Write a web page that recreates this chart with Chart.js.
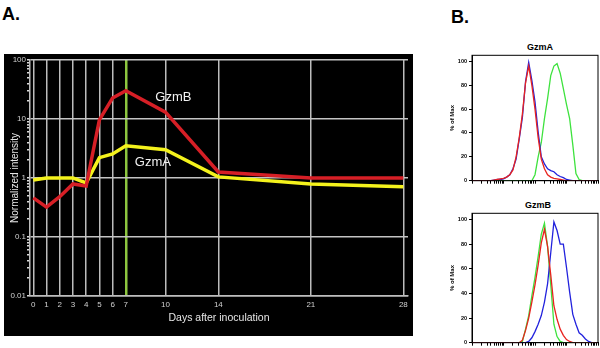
<!DOCTYPE html>
<html>
<head>
<meta charset="utf-8">
<script src="https://cdn.jsdelivr.net/npm/chart.js@4.4.1/dist/chart.umd.min.js"></script>
<style>
  body { margin: 0; width: 600px; height: 348px; background: #fff; position: relative; overflow: hidden; font-family: "Liberation Sans", Arial, sans-serif; }
  .panel { position: absolute; font-weight: bold; font-size: 18px; line-height: 18px; }
  .box { position: absolute; }
  .htitle { position: absolute; width: 80px; text-align: center; font-size: 9px; line-height: 10px; font-weight: bold; }
</style>
</head>
<body>
<div class="panel" style="left:2px;top:5px">A.</div>
<div class="panel" style="left:451px;top:8px">B.</div>
<div class="box" style="left:4px;top:54px;width:409px;height:282px;background:#000"><canvas id="kinetics"></canvas></div>
<div class="htitle" style="left:500px;top:42px">GzmA</div>
<div class="box" style="left:440px;top:50px;width:160px;height:136px"><canvas id="histA"></canvas></div>
<div class="htitle" style="left:498px;top:200px">GzmB</div>
<div class="box" style="left:440px;top:208px;width:160px;height:140px"><canvas id="histB"></canvas></div>
<script>
// Panel A : kinetics
const days = [0, 1, 2, 3, 4, 5, 6, 7, 10, 14, 21, 28];
const gzmB = [0.46, 0.32, 0.48, 0.79, 0.73, 9.6, 22.6, 30, 13, 1.26, 1.0, 1.0];
const gzmA = [0.92, 1.0, 1.0, 1.0, 0.82, 2.2, 2.55, 3.5, 3.0, 1.04, 0.79, 0.71];
const yDecades = [0.01, 0.1, 1, 10, 100];
const yDecadeLabels = ['0.01', '0.1', '1', '10', '100'];
const markedDay = 7;
const curveNames = ['GzmB', 'GzmA'];
const curveNameDays = [10.6, 9.05];
const curveNameValues = [22.7, 1.8];

// Panel B : histograms (x = log10 fluorescence)
const fluo = [0, 0.1, 0.2, 0.3, 0.4, 0.5, 0.6, 0.7, 0.8, 0.9,
  1, 1.1, 1.2, 1.3, 1.4, 1.5, 1.6, 1.7, 1.8, 1.9,
  2, 2.1, 2.2, 2.3, 2.4, 2.5, 2.6, 2.7, 2.8, 2.9,
  3, 3.1, 3.2, 3.3, 3.4, 3.5, 3.6, 3.7, 3.8, 3.9, 4];
const gzmARed = [0, 0, 0, 0, 0, 0, 0, 0.5, 1, 1.5,
  2, 3, 5, 9, 20, 36, 56, 82, 96, 80,
  60, 36, 18, 10, 5, 3, 2, 1.5, 1, 0.5,
  0, 0, 0, 0, 0, 0, 0, 0, 0, 0, 0];
const gzmABlue = [0, 0, 0, 0, 0, 0, 0, 0.5, 1, 1,
  1.5, 3, 5, 10, 18, 35, 53, 83, 99, 84,
  66, 41, 20, 14, 10, 8.5, 7.5, 5, 3.5, 2.5,
  1, 0.5, 0, 0, 0, 0, 0, 0, 0, 0, 0];
const gzmAGreen = [0, 0, 0, 0, 0, 0, 0, 0, 0, 0,
  0, 0, 0, 0, 0, 0, 0, 0, 0, 0,
  5, 20, 32, 52, 69, 88, 96, 98, 90, 77,
  64, 52, 30, 6, 1, 0, 0, 0, 0, 0, 0];
const gzmBRed = [0, 0, 0, 0, 0, 0, 0, 0, 0, 0,
  0, 0, 0, 0, 0, 0, 2, 10, 20, 33,
  47, 63, 81, 92, 78, 55, 30, 19, 11, 6,
  2.5, 1, 0, 0, 0, 0, 0, 0, 0, 0, 0];
const gzmBBlue = [0, 0, 0, 0, 0, 0, 0, 0, 0, 0,
  0, 0, 0, 0, 0, 0, 0, 0, 1, 4,
  9, 15, 22, 33, 48, 73, 98, 91, 80, 80,
  61, 41, 23, 15, 8, 6, 3, 1, 0, 0, 0];
const gzmBGreen = [0, 0, 0, 0, 0, 0, 0, 0, 0, 0,
  0, 0, 0, 0, 0, 0, 1, 11, 22, 38,
  53, 70, 88, 97, 78, 47, 15, 5, 1, 0,
  0, 0, 0, 0, 0, 0, 0, 0, 0, 0, 0];
const histYTicks = [0, 20, 40, 60, 80, 100];

Chart.defaults.font.family = '"Liberation Sans", Arial, sans-serif';
Chart.defaults.animation = false;

const isDecade = (v) => yDecades.some((d) => Math.abs(v / d - 1) < 1e-6);

const curveLabelPlugin = {
  id: 'curveLabels',
  afterDatasetsDraw(chart) {
    const { ctx, scales } = chart;
    ctx.save();
    ctx.fillStyle = '#f2f2f2';
    ctx.font = '13px "Liberation Sans", Arial, sans-serif';
    ctx.textAlign = 'center';
    ctx.textBaseline = 'middle';
    curveNames.forEach((name, i) => {
      ctx.fillText(name, scales.x.getPixelForValue(curveNameDays[i]), scales.y.getPixelForValue(curveNameValues[i]));
    });
    ctx.restore();
  },
};

new Chart(document.getElementById('kinetics'), {
  type: 'line',
  data: {
    datasets: [
      {
        label: 'GzmB',
        data: days.map((d, i) => ({ x: d, y: gzmB[i] })),
        borderColor: '#d61f26',
        borderWidth: 3.5,
        pointRadius: 0,
        tension: 0,
      },
      {
        label: 'GzmA',
        data: days.map((d, i) => ({ x: d, y: gzmA[i] })),
        borderColor: '#f4f21c',
        borderWidth: 3.5,
        pointRadius: 0,
        tension: 0,
      },
    ],
  },
  options: {
    responsive: true,
    maintainAspectRatio: false,
    layout: { padding: { top: 5, right: 5 } },
    plugins: { legend: { display: false }, tooltip: { enabled: false } },
    scales: {
      x: {
        type: 'linear',
        min: -0.25,
        max: 28.35,
        afterBuildTicks: (scale) => { scale.ticks = days.map((d) => ({ value: d })); },
        afterFit: (scale) => { scale.height = 40; },
        ticks: { color: '#d0d0d0', font: { size: 8 }, padding: 4, autoSkip: false, maxRotation: 0 },
        grid: {
          drawTicks: false,
          color: (c) => (c.tick && c.tick.value === markedDay ? '#8dc63f' : '#bdbdbd'),
          lineWidth: (c) => (c.tick && c.tick.value === markedDay ? 2.5 : 1.5),
        },
        border: { color: '#bdbdbd', width: 1.5 },
        title: { display: true, text: 'Days after inoculation', color: '#e6e6e6', font: { size: 10.5 }, padding: { top: 0, bottom: 12 } },
      },
      y: {
        type: 'logarithmic',
        min: 0.01,
        max: 100,
        afterBuildTicks: (scale) => {
          const t = [];
          yDecades.forEach((d, i) => {
            if (i === yDecades.length - 1) { t.push({ value: d }); return; }
            for (let k = 1; k < 10; k++) t.push({ value: k * d });
          });
          scale.ticks = t;
        },
        afterFit: (scale) => { scale.width = 26; },
        ticks: {
          color: '#d0d0d0',
          font: { size: 8 },
          padding: 1,
          autoSkip: false,
          callback: (v) => {
            const i = yDecades.findIndex((d) => Math.abs(v / d - 1) < 1e-6);
            return i >= 0 ? yDecadeLabels[i] : '';
          },
        },
        grid: {
          color: (c) => (c.tick && isDecade(c.tick.value) ? '#c4c4c4' : 'rgba(0,0,0,0)'),
          tickColor: '#d8d8d8',
          tickLength: 3,
          lineWidth: 1.5,
        },
        border: { color: '#bdbdbd', width: 1.5 },
        title: { display: true, text: 'Normalized intensity', color: '#e6e6e6', font: { size: 10 }, padding: { top: 5, bottom: 0 } },
      },
    },
  },
  plugins: [curveLabelPlugin],
});

// Panel B
const framePlugin = {
  id: 'frame',
  afterDraw(chart) {
    const { ctx, chartArea: a } = chart;
    ctx.save();
    ctx.strokeStyle = '#000';
    ctx.lineWidth = 1;
    ctx.strokeRect(a.left, a.top, a.right - a.left, a.bottom - a.top);
    ctx.restore();
  },
};

const histDataset = (label, values, color) => ({
  label,
  data: fluo.map((f, i) => ({ x: f, y: values[i] })),
  borderColor: color,
  borderWidth: 1.3,
  pointRadius: 0,
  tension: 0,
});

const makeHist = (id, red, blue, green, xHeight) => new Chart(document.getElementById(id), {
  type: 'line',
  data: {
    datasets: [
      histDataset('red', red, '#e8231f'),
      histDataset('blue', blue, '#2222dd'),
      histDataset('green', green, '#3ee23e'),
    ],
  },
  options: {
    responsive: true,
    maintainAspectRatio: false,
    layout: { padding: { top: 4, right: 2 } },
    plugins: { legend: { display: false }, tooltip: { enabled: false } },
    scales: {
      x: {
        type: 'linear',
        min: 0,
        max: 4,
        afterBuildTicks: (scale) => {
          const t = [];
          for (let n = 0; n < 4; n++) {
            for (let k = 1; k < 10; k++) t.push({ value: n + Math.log10(k) });
          }
          t.push({ value: 4 });
          scale.ticks = t;
        },
        afterFit: (scale) => { scale.height = xHeight; },
        ticks: { display: false },
        grid: { drawOnChartArea: false, color: '#000', tickLength: 3 },
        border: { color: '#000', width: 1 },
      },
      y: {
        min: 0,
        max: 105,
        afterBuildTicks: (scale) => { scale.ticks = histYTicks.map((v) => ({ value: v })); },
        afterFit: (scale) => { scale.width = 32; },
        ticks: { color: '#000', font: { size: 5.5, weight: 'bold' }, padding: 2 },
        grid: { drawOnChartArea: false, color: '#000', tickLength: 3 },
        border: { color: '#000', width: 1 },
        title: { display: true, text: '% of Max', color: '#000', font: { size: 6, weight: 'bold' }, padding: { top: 9, bottom: 0 } },
      },
    },
  },
  plugins: [framePlugin],
});

makeHist('histA', gzmARed, gzmABlue, gzmAGreen, 5);
makeHist('histB', gzmBRed, gzmBBlue, gzmBGreen, 4);
</script>
</body>
</html>
